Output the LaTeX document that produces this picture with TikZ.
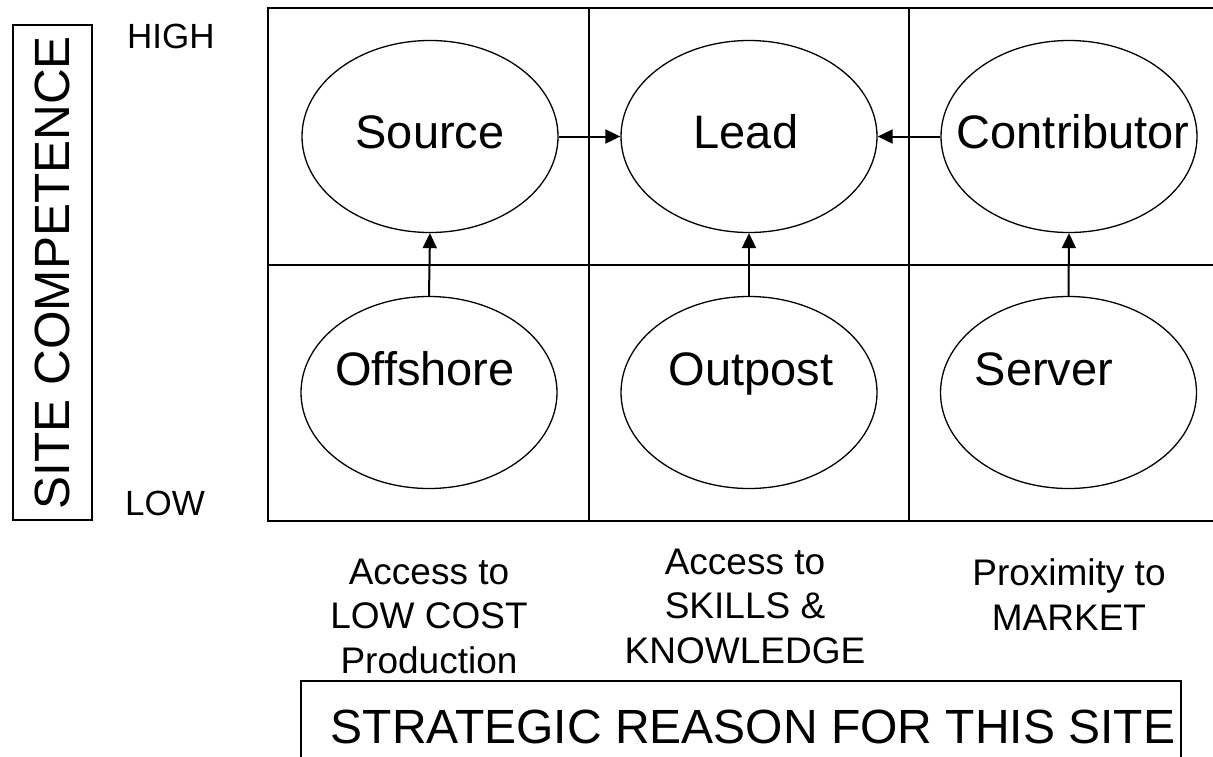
\documentclass[tikz,border=0pt]{standalone}
\usepackage{fontspec}
\setmainfont{Liberation Sans}
\usetikzlibrary{shapes.geometric,arrows.meta}
\begin{document}
\begin{tikzpicture}[x=1pt,y=-1pt,
  cell/.style={draw,line width=2pt},
  oval/.style={draw,ellipse,line width=1.3pt,minimum width=256pt,minimum height=192pt,inner sep=0pt},
  ovaltext/.style={font=\fontsize{47}{56}\selectfont,anchor=base,inner sep=0pt},
  lab/.style={font=\fontsize{37}{44.5}\selectfont,align=center,inner sep=0pt,anchor=north},
  axislab/.style={font=\fontsize{35}{42}\selectfont,anchor=base west,inner sep=0pt},
  conn/.style={line width=2pt,-{Triangle[length=15pt,width=14pt]}}]
\useasboundingbox (0,0) rectangle (1213,756);
\clip (0,0) rectangle (1213,756);
% grid
\draw[cell] (268,8) rectangle (1220,521);
\draw[cell] (589,8) -- (589,521);
\draw[cell] (909,8) -- (909,521);
\draw[cell] (268,265) -- (1220,265);
% ellipses
\node[oval] (source) at (430,136.5) {};
\node[oval] (lead) at (749,136.5) {};
\node[oval] (contrib) at (1069,136.5) {};
\node[oval] (offshore) at (429,392.5) {};
\node[oval] (outpost) at (749,392.5) {};
\node[oval] (server) at (1068.5,392.5) {};
% ellipse texts
\node[ovaltext] (tsource) at (430,148) {Source};
\node[ovaltext] (tlead) at (746,148) {Lead};
\node[ovaltext] (tcontrib) at (1073,148) {Contributor};
\node[ovaltext] (toffshore) at (425,385) {Offshore};
\node[ovaltext] (toutpost) at (751,385) {Outpost};
\node[ovaltext] (tserver) at (1044,385) {Server};
% connectors
\draw[conn] (source.east) -- (lead.west);
\draw[conn] (contrib.west) -- (lead.east);
\draw[conn] (offshore.north) -- (source.south);
\draw[conn] (outpost.north) -- (lead.south);
\draw[conn] (server.north) -- (contrib.south);
% vertical axis
\node[draw,line width=2pt,rotate=90,minimum width=495pt,minimum height=79pt,inner sep=0pt,
  font=\fontsize{49.5}{58}\selectfont] (axis) at (52.5,272.5) {SITE COMPETENCE};
\node[axislab] (high) at (127,48) {HIGH};
\node[axislab] (low) at (125,515) {LOW};
% bottom labels
\node[lab] (lowcost) at (429,558.5) {Access to\\LOW COST\\Production};
\node[lab] (skills) at (745,548.5) {Access to\\SKILLS \&\\KNOWLEDGE};
\node[lab] (market) at (1069,558.5) {Proximity to\\MARKET};
% strategic reason box
\node[draw,line width=2pt,minimum width=880pt,minimum height=120pt,inner sep=0pt] (reason) at (741,741) {};
\node[ovaltext,font=\fontsize{48}{56}\selectfont] (treason) at (753,743) {STRATEGIC REASON FOR THIS SITE};
\end{tikzpicture}
\end{document}
